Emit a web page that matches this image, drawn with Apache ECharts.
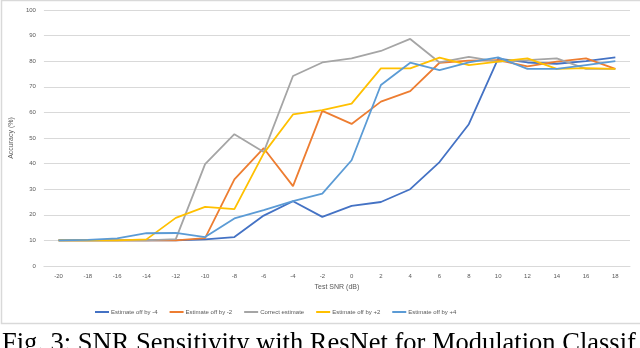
<!DOCTYPE html>
<html>
<head>
<meta charset="utf-8">
<script src="https://cdn.jsdelivr.net/npm/echarts@6/dist/echarts.min.js"></script>
<style>
  html, body { margin: 0; padding: 0; background: #fff; }
  #main { width: 640px; height: 348px; }
</style>
</head>
<body>
<div id="main"></div>
<script>
var snr = ['-20', '-18', '-16', '-14', '-12', '-10', '-8', '-6', '-4', '-2',
  '0', '2', '4', '6', '8', '10', '12', '14', '16', '18'];

var offMinus4 = [10, 10, 10, 10, 10, 10.4, 11.3, 19.7, 25.3, 19.2, 23.5, 25, 30, 40.6, 55.4, 81, 79.5, 79, 80, 81.5];
var offMinus2 = [10, 10, 10, 10, 10, 10.9, 33.8, 46, 31.2, 60.6, 55.5, 64.2, 68.3, 79.4, 80.2, 80.4, 78, 79.8, 81.1, 77];
var correct = [10, 10, 10, 10, 10.5, 39.8, 51.5, 44.5, 74.2, 79.5, 81.1, 84, 88.7, 79.5, 81.7, 79.8, 80.4, 81.1, 77, 77];
var offPlus2 = [10, 10, 10, 10.4, 18.8, 23.1, 22.2, 44, 59.2, 60.9, 63.4, 77.2, 77.2, 81.4, 78.5, 79.8, 81.1, 77, 77.3, 77];
var offPlus4 = [10, 10.2, 10.8, 12.8, 12.9, 11.3, 18.6, 21.8, 25.3, 28.3, 41.3, 70.7, 79.4, 76.5, 79.5, 81.5, 77, 77, 78.5, 80];

var seriesNames = ['Estimate off by -4', 'Estimate off by -2', 'Correct estimate', 'Estimate off by +2', 'Estimate off by +4'];
var seriesData = [offMinus4, offMinus2, correct, offPlus2, offPlus4];

var chart = echarts.init(document.getElementById('main'), null, { renderer: 'canvas' });

var font = 'Liberation Sans';
var textGray = '#595959';

var option = {
  animation: false,
  color: ['#4472C4', '#ED7D31', '#A5A5A5', '#FFC000', '#5B9BD5'],
  title: {
    text: 'Fig. 3: SNR Sensitivity with ResNet for Modulation Classif',
    left: 2,
    top: 331,
    padding: 0,
    textStyle: {
      fontFamily: 'Liberation Serif',
      fontSize: 26.5,
      fontWeight: 'normal',
      color: '#000'
    }
  },
  graphic: [{
    type: 'rect',
    shape: { x: 1.5, y: 0.5, width: 650, height: 323 },
    style: { fill: 'none', stroke: '#d9d9d9', lineWidth: 1.5 },
    silent: true
  }],
  legend: {
    data: seriesNames,
    left: 90,
    top: 304,
    itemWidth: 14,
    itemHeight: 2,
    itemGap: 12,
    icon: 'rect',
    textStyle: { fontFamily: font, fontSize: 6, color: textGray, padding: [0, 0, 0, -3] }
  },
  grid: {
    left: 42,
    right: 10,
    top: 10,
    bottom: 82
  },
  xAxis: {
    type: 'category',
    data: snr,
    boundaryGap: true,
    name: 'Test SNR (dB)',
    nameLocation: 'middle',
    nameGap: 18,
    nameTextStyle: { fontFamily: font, fontSize: 7, color: textGray },
    axisLine: { lineStyle: { color: '#d9d9d9' } },
    axisTick: { show: false },
    axisLabel: { fontFamily: font, fontSize: 6, color: textGray, margin: 7, interval: 0 }
  },
  yAxis: {
    type: 'value',
    min: 0,
    max: 100,
    interval: 10,
    name: 'Accuracy (%)',
    nameLocation: 'middle',
    nameGap: 20,
    nameTextStyle: { fontFamily: font, fontSize: 7, color: textGray },
    axisLine: { show: false },
    axisTick: { show: false },
    axisLabel: { fontFamily: font, fontSize: 6, color: textGray, margin: 8 },
    splitLine: { lineStyle: { color: '#d9d9d9', width: 1 } }
  },
  series: seriesNames.map(function (name, i) {
    return {
      name: name,
      type: 'line',
      data: seriesData[i],
      symbol: 'none',
      lineStyle: { width: 1.8 }
    };
  })
};

chart.setOption(option);
</script>
</body>
</html>
